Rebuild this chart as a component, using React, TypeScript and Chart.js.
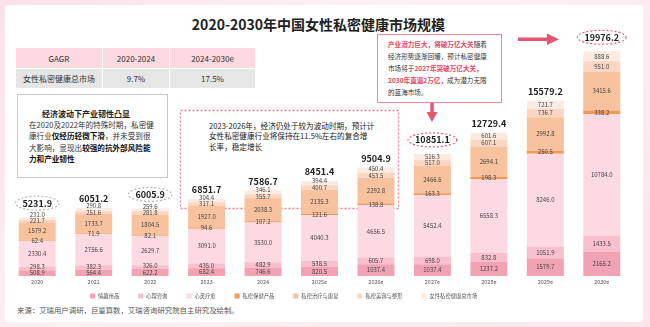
import React, { useEffect, useRef } from 'react';
import { Chart, registerables } from 'chart.js';

Chart.register(...registerables);

const FONT = '"Noto Sans CJK SC", "Noto Sans", sans-serif';

const categories = ['2020', '2021', '2022', '2023', '2024', '2025e', '2026e', '2027e', '2028e', '2029e', '2030e'];
const seriesNames = ['情趣用品', '心理咨询', '心灵疗愈', '私密保健产品', '私密治疗与康复', '私密美容与整形', '女性私密健康总市场'];

const qingquYongpin = [508.9, 564.4, 622.2, 682.4, 746.6, 820.5, 1037.4, 1037.4, 1237.2, 1579.7, 2165.2];
const xinliZixun = [298.3, 382.3, 326.0, 435.0, 482.9, 538.5, 605.7, 698.0, 832.8, 1051.9, 1433.5];
const xinlingLiaoyu = [2330.4, 2756.6, 2629.7, 3091.0, 3530.0, 4040.3, 4656.5, 5452.4, 6558.3, 8246.0, 10784.0];
const baojianChanpin = [62.4, 71.9, 82.1, 94.6, 107.2, 121.6, 138.8, 163.3, 198.3, 250.5, 338.2];
const zhiliaoKangfu = [1579.2, 1733.7, 1804.5, 1927.0, 2038.3, 2135.3, 2292.8, 2466.6, 2694.1, 2992.8, 3415.6];
const meirongZhengxing = [221.7, 251.6, 281.8, 317.1, 355.7, 400.7, 453.5, 517.0, 607.1, 736.7, 951.0];
const zongShichang = [231.0, 290.8, 259.6, 304.4, 346.1, 394.4, 450.4, 516.3, 601.6, 721.7, 888.6];
const totals = [5231.9, 6051.2, 6005.9, 6851.7, 7586.7, 8451.4, 9504.9, 10851.1, 12729.4, 15579.2, 19976.2];

const seriesValues = [qingquYongpin, xinliZixun, xinlingLiaoyu, baojianChanpin, zhiliaoKangfu, meirongZhengxing, zongShichang];
const seriesColors = ['#f2a3b3', '#f8c0cc', '#fdd9e2', '#f0975a', '#f7c29d', '#fbd7c3', '#fdeae1'];
const ringColors: Record<number, string> = { 0: '#b5b5b5', 2: '#b5b5b5', 7: '#e85c78', 10: '#e85c78' };

const overlayPlugin = {
  id: 'overlayLabels',
  afterDatasetsDraw(chart: any) {
    const { ctx } = chart;
    const yScale = chart.scales.y;
    const n = chart.data.labels.length;
    ctx.save();
    ctx.textAlign = 'center';
    ctx.textBaseline = 'middle';
    for (let j = 0; j < n; j++) {
      let prev = Infinity;
      let sum = 0;
      let x = 0;
      chart.data.datasets.forEach((ds: any, i: number) => {
        const el = chart.getDatasetMeta(i).data[j];
        const v = ds.data[j];
        sum += v;
        x = el.x;
        const c = (el.y + el.base) / 2;
        const y = Math.min(c, prev - 6.4);
        prev = y;
        ctx.font = `6px ${FONT}`;
        ctx.fillStyle = '#444';
        ctx.fillText(v.toFixed(1), el.x, y);
      });
      const top = yScale.getPixelForValue(sum);
      const ring = ringColors[j];
      const ty = top - (ring ? 14 : 9);
      const txt = totals[j].toFixed(1);
      ctx.font = `bold 9px ${FONT}`;
      ctx.fillStyle = '#222';
      ctx.fillText(txt, x, ty);
      if (ring) {
        const w = ctx.measureText(txt).width;
        ctx.beginPath();
        ctx.setLineDash([2, 2]);
        ctx.strokeStyle = ring;
        ctx.lineWidth = 1.2;
        ctx.ellipse(x, ty, w / 2 + 7, 7, 0, 0, Math.PI * 2);
        ctx.stroke();
        ctx.setLineDash([]);
      }
    }
    ctx.restore();
  },
  afterDraw(chart: any) {
    const { ctx } = chart;
    ctx.save();
    ctx.font = `5.3px ${FONT}`;
    ctx.textBaseline = 'middle';
    ctx.textAlign = 'left';
    let x = 90;
    const y = 296;
    chart.data.datasets.forEach((ds: any) => {
      ctx.fillStyle = ds.backgroundColor;
      ctx.fillRect(x, y - 2.5, 5, 5);
      ctx.fillStyle = '#555';
      ctx.fillText(ds.label, x + 8, y);
      x += 8 + ctx.measureText(ds.label).width + 19;
    });
    ctx.restore();
  },
};

export default function App() {
  const ref = useRef<HTMLCanvasElement>(null);

  useEffect(() => {
    document.body.style.margin = '0';
    const chart = new Chart(ref.current as HTMLCanvasElement, {
      type: 'bar',
      data: {
        labels: categories,
        datasets: seriesNames.map((name, i) => ({
          label: name,
          data: seriesValues[i],
          backgroundColor: seriesColors[i],
          borderWidth: 0,
          barPercentage: 0.655,
          categoryPercentage: 1,
        })),
      },
      options: {
        animation: false,
        responsive: false,
        layout: { padding: { left: 9, right: 20, top: 6, bottom: 37 } },
        plugins: { legend: { display: false }, tooltip: { enabled: false } },
        scales: {
          x: {
            stacked: true,
            grid: { display: false, drawTicks: false },
            border: { display: false },
            ticks: { font: { size: 5.5, family: FONT }, color: '#555', padding: 3, maxRotation: 0, autoSkip: false },
            afterFit: (s: any) => { s.height = 14; },
          },
          y: { stacked: true, display: false, min: 0, max: 24000 },
        },
      },
      plugins: [overlayPlugin],
    } as any);
    return () => chart.destroy();
  }, []);

  const red = '#e5465f';
  const abs = (o: any) => ({ position: 'absolute', ...o } as React.CSSProperties);
  const cell = (w: number, bg: string, txt: string, last = false) => (
    <div style={{ width: w, height: '100%', background: bg, display: 'flex', alignItems: 'center', justifyContent: 'center', borderRight: last ? 'none' : '1px solid #fff', boxSizing: 'border-box' }}>{txt}</div>
  );

  return (
    <div style={abs({ left: 0, top: 0, width: 650, height: 327, overflow: 'hidden', fontFamily: FONT, background: 'linear-gradient(135deg, #fbe2e9 0%, #fdf1f4 40%, #fbe6ec 100%)' })}>
      <div style={abs({ left: 5, top: 5, width: 638, height: 317, background: '#fff', borderRadius: 3 })} />
      <div style={abs({ left: 0, top: 15, width: 637, textAlign: 'center', fontSize: 14, lineHeight: '18px', fontWeight: 700, color: '#222' })}>2020-2030年中国女性私密健康市场规模</div>

      <div style={abs({ left: 16, top: 48, width: 239, fontSize: 8, color: '#333' })}>
        <div style={{ display: 'flex', height: 20 }}>
          {cell(87, '#fbd9de', 'GAGR')}
          {cell(67, '#fbd9de', '2020-2024')}
          {cell(85, '#fbd9de', '2024-2030e', true)}
        </div>
        <div style={{ display: 'flex', height: 20, borderTop: '1px solid #fff', boxSizing: 'border-box' }}>
          {cell(87, '#e6e6e6', '女性私密健康总市场')}
          {cell(67, '#e6e6e6', '9.7%')}
          {cell(85, '#e6e6e6', '17.5%', true)}
        </div>
      </div>

      <div style={abs({ left: 17, top: 94, width: 151, height: 84, border: '1px solid #c8c8c8', boxSizing: 'border-box', background: '#fff' })} />
      <div style={abs({ left: 42, top: 108, fontSize: 8, lineHeight: '11.5px', fontWeight: 700, color: '#222', whiteSpace: 'nowrap' })}>经济波动下产业韧性凸显</div>
      <div style={abs({ left: 29, top: 118.5, fontSize: 7.6, lineHeight: '11.5px', color: '#333', whiteSpace: 'nowrap' })}>
        <div>在2020及2022年的特殊时期，私密健</div>
        <div>康行业<b style={{ color: '#111' }}>仅经历轻微下滑</b>，并未受到很</div>
        <div>大影响，显现出<b style={{ color: '#111' }}>较强的抗外部风险能</b></div>
        <div><b style={{ color: '#111' }}>力和产业韧性</b></div>
      </div>

      <svg width={650} height={327} style={abs({ left: 0, top: 0 })}>
        <rect x={180.5} y={110.5} width={218} height={98} fill="none" stroke="#ef7b95" strokeWidth={1.3} strokeDasharray="2 2" />
        <rect x={518} y={37.5} width={31} height={3.5} fill="#e3566f" />
        <polygon points="547,33.5 559,39.25 547,45" fill="#e3566f" />
        <rect x={430.3} y={103} width={3.5} height={10} fill="#e3566f" />
        <polygon points="426.5,112 437.5,112 432,122" fill="#e3566f" />
      </svg>

      <div style={abs({ left: 209, top: 120.5, fontSize: 7.6, lineHeight: '10.5px', color: '#222', whiteSpace: 'nowrap' })}>
        <div>2023-2026年，经济仍处于较为波动时期，预计计</div>
        <div>女性私密健康行业将保持在11.5%左右的复合增</div>
        <div>长率，稳定增长</div>
      </div>

      <div style={abs({ left: 377, top: 34, width: 125, height: 69, border: '1px solid #e98a9b', boxSizing: 'border-box', background: '#fff' })} />
      <div style={abs({ left: 388, top: 39, fontSize: 6.6, lineHeight: '11.9px', color: '#333', whiteSpace: 'nowrap' })}>
        <div><span style={{ color: red, fontWeight: 700 }}>产业潜力巨大，将破万亿大关</span>随着</div>
        <div>经济形势逐渐回暖，预计私密健康</div>
        <div>市场将于<span style={{ color: red, fontWeight: 700 }}>2027年突破万亿大关，</span></div>
        <div><span style={{ color: red, fontWeight: 700 }}>2030年直逼2万亿，</span>成为潜力无限</div>
        <div>的蓝海市场。</div>
      </div>

      <div style={abs({ left: 17, top: 304, fontSize: 7.4, lineHeight: '12px', color: '#555', whiteSpace: 'nowrap' })}>来源：艾瑞用户调研，巨量算数，艾瑞咨询研究院自主研究及绘制。</div>

      <div style={abs({ left: 0, top: 0, width: 650, height: 327 })}>
        <canvas ref={ref} width={650} height={327} style={{ width: 650, height: 327, display: 'block' }} />
      </div>
    </div>
  );
}
